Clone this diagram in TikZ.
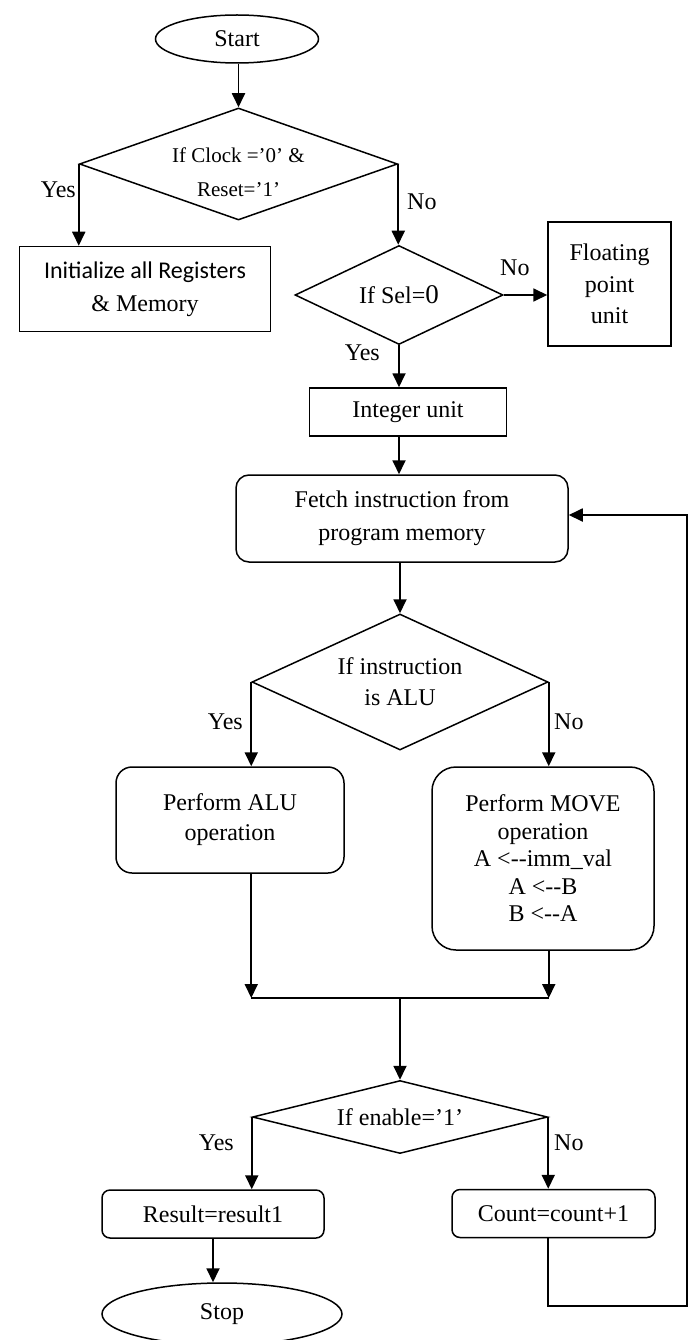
\documentclass[tikz,border=0pt]{standalone}
\usepackage{fontspec}
\setmainfont{Liberation Serif}
\newfontfamily\calfont{Carlito}
\usetikzlibrary{shapes.geometric,arrows.meta}
\tikzset{
  base/.style={draw, line width=1.5pt, align=center, inner sep=0pt, font=\fontsize{24}{27.6}\selectfont},
  term/.style={base, ellipse},
  proc/.style={base, rectangle},
  rproc/.style={base, rectangle, rounded corners=#1},
  dec/.style={base, diamond},
  arr/.style={line width=1.8pt, -{Triangle[length=14pt,width=13pt]}},
  ln/.style={line width=1.8pt},
  lbl/.style={font=\fontsize{24}{27.6}\selectfont, inner sep=0pt}
}
\begin{document}
\begin{tikzpicture}[x=1pt,y=-1pt]
\useasboundingbox (0,0) rectangle (695,1340);
% nodes
\node[term, minimum width=163pt, minimum height=48pt] (start) at (237,39) {Start};
\node[dec, minimum width=318pt, minimum height=112pt, shape aspect=2.84,
      label={[align=center, inner sep=0pt, yshift=-8pt, font=\fontsize{21}{34}\selectfont]center:{If Clock =’0’ \&\\Reset=’1’}}] (d1) at (238.5,164) {};
\node[proc, minimum width=251pt, minimum height=85pt] (init) at (145,289) {{\calfont Initialize all Registers}\\[5pt]\& Memory};
\node[dec, minimum width=208pt, minimum height=99pt, shape aspect=2.1] (d2) at (399,295) {If Sel={\fontsize{27}{27}\selectfont 0}};
\node[proc, minimum width=123pt, minimum height=124pt, font=\fontsize{24}{31.5}\selectfont] (float) at (609.5,284) {Floating\\point\\unit};
\node[proc, minimum width=197pt, minimum height=48pt] (int) at (408,412) {Integer unit};
\node[rproc=13pt, minimum width=332pt, minimum height=87pt, font=\fontsize{24}{33}\selectfont] (fetch) at (402,518.5) {Fetch instruction from\\program memory};
\node[dec, minimum width=296pt, minimum height=136pt, shape aspect=2.18, font=\fontsize{24}{31}\selectfont] (d3) at (400,682) {If instruction\\is ALU};
\node[rproc=16pt, minimum width=228pt, minimum height=106pt, font=\fontsize{24}{30}\selectfont] (alu) at (230,820) {Perform ALU\\operation};
\node[rproc=24pt, minimum width=222pt, minimum height=183pt, font=\fontsize{24}{27.5}\selectfont] (move) at (543,858.5) {Perform MOVE\\operation\\A <{-}{-}imm\_val\\A <{-}{-}B\\B <{-}{-}A};
\coordinate (j) at (400,998);
\node[dec, minimum width=295pt, minimum height=73pt, shape aspect=4.04] (d4) at (400,1117) {If enable=’1’};
\node[rproc=8pt, minimum width=222pt, minimum height=48pt] (result) at (213,1214) {Result=result1};
\node[rproc=8pt, minimum width=203pt, minimum height=48pt] (count) at (553.5,1213.5) {Count=count+1};
\node[term, minimum width=240pt, minimum height=62pt] (stop) at (222,1314) {Stop};
\coordinate (lb) at (687,1306);
\coordinate (lt) at (687,515);
% connectors
\draw[arr] (start.south -| d1.north) -- (d1.north);
\draw[arr] (d1.west) -- (d1.west |- init.north);
\draw[arr] (d1.east) -- (d1.east |- d2.north);
\draw[arr] (d2.east) -- (d2.east -| float.west);
\draw[arr] (d2.south) -- (d2.south |- int.north);
\draw[arr] (d2.south |- int.south) -- (d2.south |- fetch.north);
\draw[arr] (d3.north |- fetch.south) -- (d3.north);
\draw[arr] (d3.west) -- (d3.west |- alu.north);
\draw[arr] (d3.east) -- (d3.east |- move.north);
\draw[arr] (d3.west |- alu.south) -- (d3.west |- j);
\draw[arr] (d3.east |- move.south) -- (d3.east |- j);
\draw[ln] (d3.west |- j) -- (d3.east |- j);
\draw[arr] (j) -- (d4.north);
\draw[arr] (d4.west) -- (d4.west |- result.north);
\draw[arr] (d4.east) -- (d4.east |- count.north);
\draw[arr] (result.south) -- (result.south |- stop.north);
\draw[arr] (d4.east |- count.south) -- (d4.east |- lb) -- (lb) -- (lt) -- (fetch.east |- lt);
% labels
\node[lbl, anchor=east] at (76,190) {Yes};
\node[lbl, anchor=west] at (407,202) {No};
\node[lbl, anchor=west] at (500,268) {No};
\node[lbl, anchor=east] at (380,353) {Yes};
\node[lbl, anchor=east] at (243,722) {Yes};
\node[lbl, anchor=west] at (554,722) {No};
\node[lbl, anchor=east] at (234,1143) {Yes};
\node[lbl, anchor=west] at (554,1143) {No};
\end{tikzpicture}
\end{document}
